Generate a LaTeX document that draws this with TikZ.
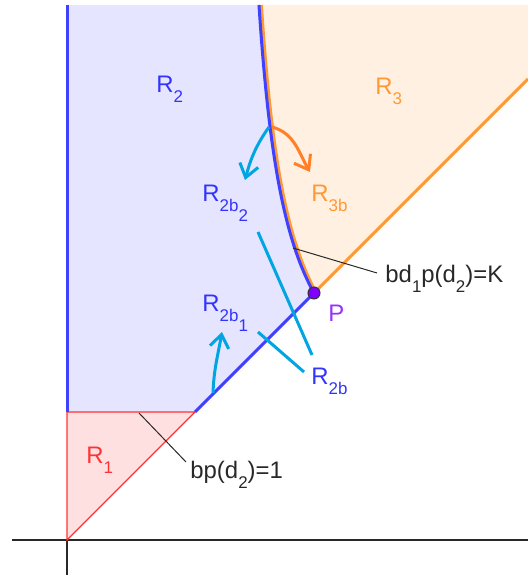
\documentclass[tikz,border=0pt]{standalone}
\usepackage{fontspec}
\setmainfont{Liberation Sans}
\usetikzlibrary{arrows.meta}
\definecolor{regblue}{RGB}{64,64,255}
\definecolor{txtblue}{RGB}{51,51,255}
\definecolor{fillb}{RGB}{229,229,255}
\definecolor{regorange}{RGB}{255,153,51}
\definecolor{arrorange}{RGB}{255,128,40}
\definecolor{fillo}{RGB}{255,240,225}
\definecolor{regred}{RGB}{255,51,51}
\definecolor{fillr}{RGB}{255,224,224}
\definecolor{lightcyan}{RGB}{0,165,225}
\definecolor{ptpurple}{RGB}{127,0,255}
\definecolor{txtpurple}{RGB}{150,50,255}
\definecolor{ink}{RGB}{40,40,40}
\newcommand{\lo}[1]{\raisebox{-5bp}{\fontsize{8.5}{9}\selectfont#1}}
\newcommand{\bdcurve}{plot[domain=535:247,samples=60,variable=\t] ({163.3+12569/(\t-96.8)},\t)}

\begin{document}
\begin{tikzpicture}[x=.5bp,y=.5bp,>={Straight Barb[length=6.5bp,width=9.5bp]},
  font=\fontsize{12}{14}\selectfont,
  lbl/.style={inner sep=0,anchor=base west},
  blueline/.style={draw=regblue,line width=1.5bp},
  orangeline/.style={draw=regorange,line width=1.5bp},
  redline/.style={draw=regred,line width=.7bp},
  cyanline/.style={draw=lightcyan,line width=1.5bp},
  leader/.style={draw=ink,line width=.5bp},
  axisline/.style={draw=ink,line width=.7bp}]
\useasboundingbox (-67,-35) rectangle (461,540);
\coordinate (O) at (0,0);
\coordinate (A) at (0,128);
\coordinate (B) at (128,128);
\coordinate (T) at (0,535);
\coordinate (P) at (247,247);
\coordinate (E) at (461,461);
\coordinate (F) at (461,535);
% regions
\fill[fillr] (O) -- (A) -- (B) -- cycle;
\fill[fillb] \bdcurve -- (B) -- (A) -- (T) -- cycle;
\fill[fillo] \bdcurve -- (E) -- (F) -- cycle;
% axes
\draw[axisline] (-55,0) -- (461,0);
\draw[axisline] (0,-35) -- (O);
% boundaries
\draw[redline] (O) -- (A) -- (B) -- cycle;
\draw[orangeline] (P) -- (E);
\draw[orangeline,xshift=1.2bp] \bdcurve;
\draw[blueline] (T) -- (A);
\draw[blueline] (B) -- (P);
\draw[blueline] \bdcurve;
% leaders
\coordinate (k1) at (72,127); \coordinate (k2) at (119,78);
\coordinate (k3) at (226,292); \coordinate (k4) at (310,267);
\draw[leader] (k1) -- (k2);
\draw[leader] (k3) -- (k4);
\coordinate (c1) at (191,308); \coordinate (c2) at (245,185);
\coordinate (c3) at (191,208); \coordinate (c4) at (237,168);
\draw[cyanline] (c1) -- (c2);
\draw[cyanline] (c3) -- (c4);
% arrows
\coordinate (s1) at (146,147); \coordinate (t1) at (155,208);
\coordinate (s2) at (202,413); \coordinate (t2) at (178,360);
\coordinate (s3) at (205,413); \coordinate (t3) at (243,368);
\draw[cyanline,->] (s1) to[out=88,in=-100] (t1);
\draw[cyanline,->] (s2) to[out=-125,in=75] (t2);
\draw[draw=arrorange,line width=1.5bp,->] (s3) to[out=-15,in=120] (t3);
% point
\fill[ptpurple,draw=black!80,line width=.5bp] (P) circle[radius=3bp];
% labels
\node[lbl,txtblue] (r2) at (89,447) {R\lo{2}};
\node[lbl,regorange] (r3) at (308,445) {R\lo{3}};
\node[lbl,regorange] (r3b) at (244,338) {R\lo{3b}};
\node[lbl,txtblue] (r2b2) at (135,338) {R\lo{2b\lo{2}}};
\node[lbl,txtblue] (r2b1) at (135,228) {R\lo{2b\lo{1}}};
\node[lbl,txtblue] (r2b) at (244,155) {R\lo{2b}};
\node[lbl,regred] (r1) at (19,77) {R\lo{1}};
\node[lbl,ink] (bp) at (123,61) {bp(d\lo{2})=1};
\node[lbl,ink] (bdk) at (318,257) {bd\lo{1}p(d\lo{2})=K};
\node[lbl,txtpurple] (lp) at (261,218) {P};
\end{tikzpicture}
\end{document}
